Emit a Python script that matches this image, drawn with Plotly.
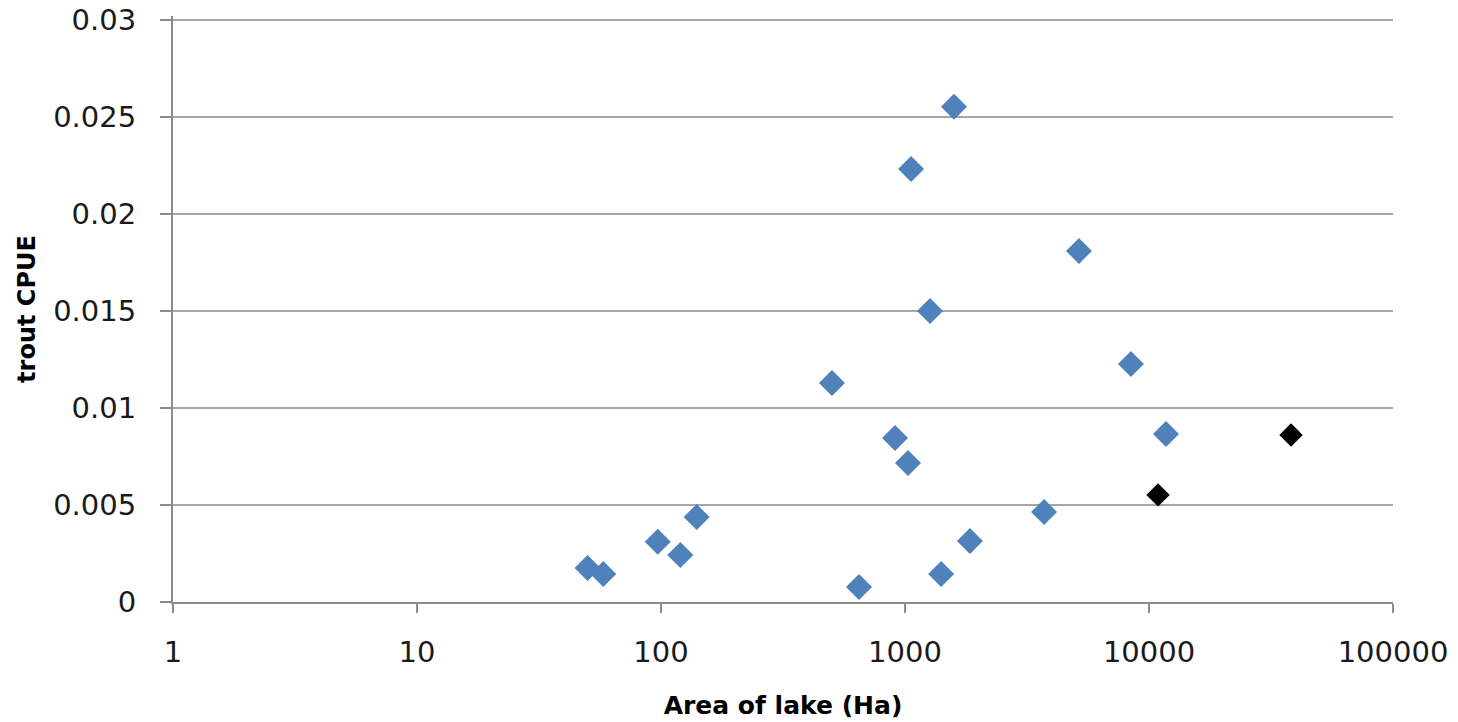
import plotly.graph_objects as go

# Data
area_blue = [50, 58, 97, 120, 140, 502, 648, 910, 1029, 1059, 1266, 1406, 1588, 1846, 3715, 5164, 8433, 11740]
cpue_blue = [0.00175, 0.00144, 0.0031, 0.00242, 0.00438, 0.01129, 0.00077, 0.00845, 0.00716, 0.02232, 0.0150, 0.00144, 0.02552, 0.00314, 0.00464, 0.01809, 0.01227, 0.00866]
area_black = [10890, 38200]
cpue_black = [0.00552, 0.00861]

x_tickvals = [1, 10, 100, 1000, 10000, 100000]
x_ticktext = ["1", "10", "100", "1000", "10000", "100000"]
y_tickvals = [0, 0.005, 0.01, 0.015, 0.02, 0.025, 0.03]
y_ticktext = ["0", "0.005", "0.01", "0.015", "0.02", "0.025", "0.03"]

fig = go.Figure()
fig.add_trace(go.Scatter(
    x=area_blue, y=cpue_blue, mode="markers",
    marker=dict(symbol="diamond", size=20, color="#4F81BD", line=dict(width=0)),
    showlegend=False,
))
fig.add_trace(go.Scatter(
    x=area_black, y=cpue_black, mode="markers",
    marker=dict(symbol="diamond", size=18, color="#000000", line=dict(width=0)),
    showlegend=False,
))

font_family = "'DejaVu Sans', Verdana, sans-serif"
fig.update_layout(
    width=1458, height=722,
    margin=dict(l=173, r=65, t=16, b=120),
    paper_bgcolor="white", plot_bgcolor="white",
    font=dict(family=font_family, size=29, color="#000000"),
)
fig.update_xaxes(
    type="log", range=[0, 5], automargin=False,
    tickvals=x_tickvals, ticktext=x_ticktext,
    showgrid=False, zeroline=False,
    showline=True, linecolor="#8C8C8C", linewidth=2,
    ticks="outside", ticklen=9, tickcolor="#8C8C8C", tickwidth=2,
    ticklabelstandoff=14, ticklabeloverflow="allow",
    tickfont=dict(size=29, family=font_family, color="#1a1a1a"),
    title=dict(text="<b>Area of lake (Ha)</b>", font=dict(size=25, family=font_family, color="#000000"), standoff=29),
)
fig.update_yaxes(
    range=[0, 0.0302], automargin=False,
    tickvals=y_tickvals, ticktext=y_ticktext,
    showgrid=True, gridcolor="#A6A6A6", gridwidth=2,
    zeroline=False,
    showline=True, linecolor="#8C8C8C", linewidth=2,
    ticks="outside", ticklen=11, tickcolor="#8C8C8C", tickwidth=2,
    ticklabelstandoff=18, ticklabeloverflow="allow",
    tickfont=dict(size=29, family=font_family, color="#1a1a1a"),
    title=dict(text="<b>trout CPUE</b>", font=dict(size=24, family=font_family, color="#000000"), standoff=11),
)
fig.write_html("out.html", config={"displayModeBar": False},
               post_script="document.body.style.margin='0';")
